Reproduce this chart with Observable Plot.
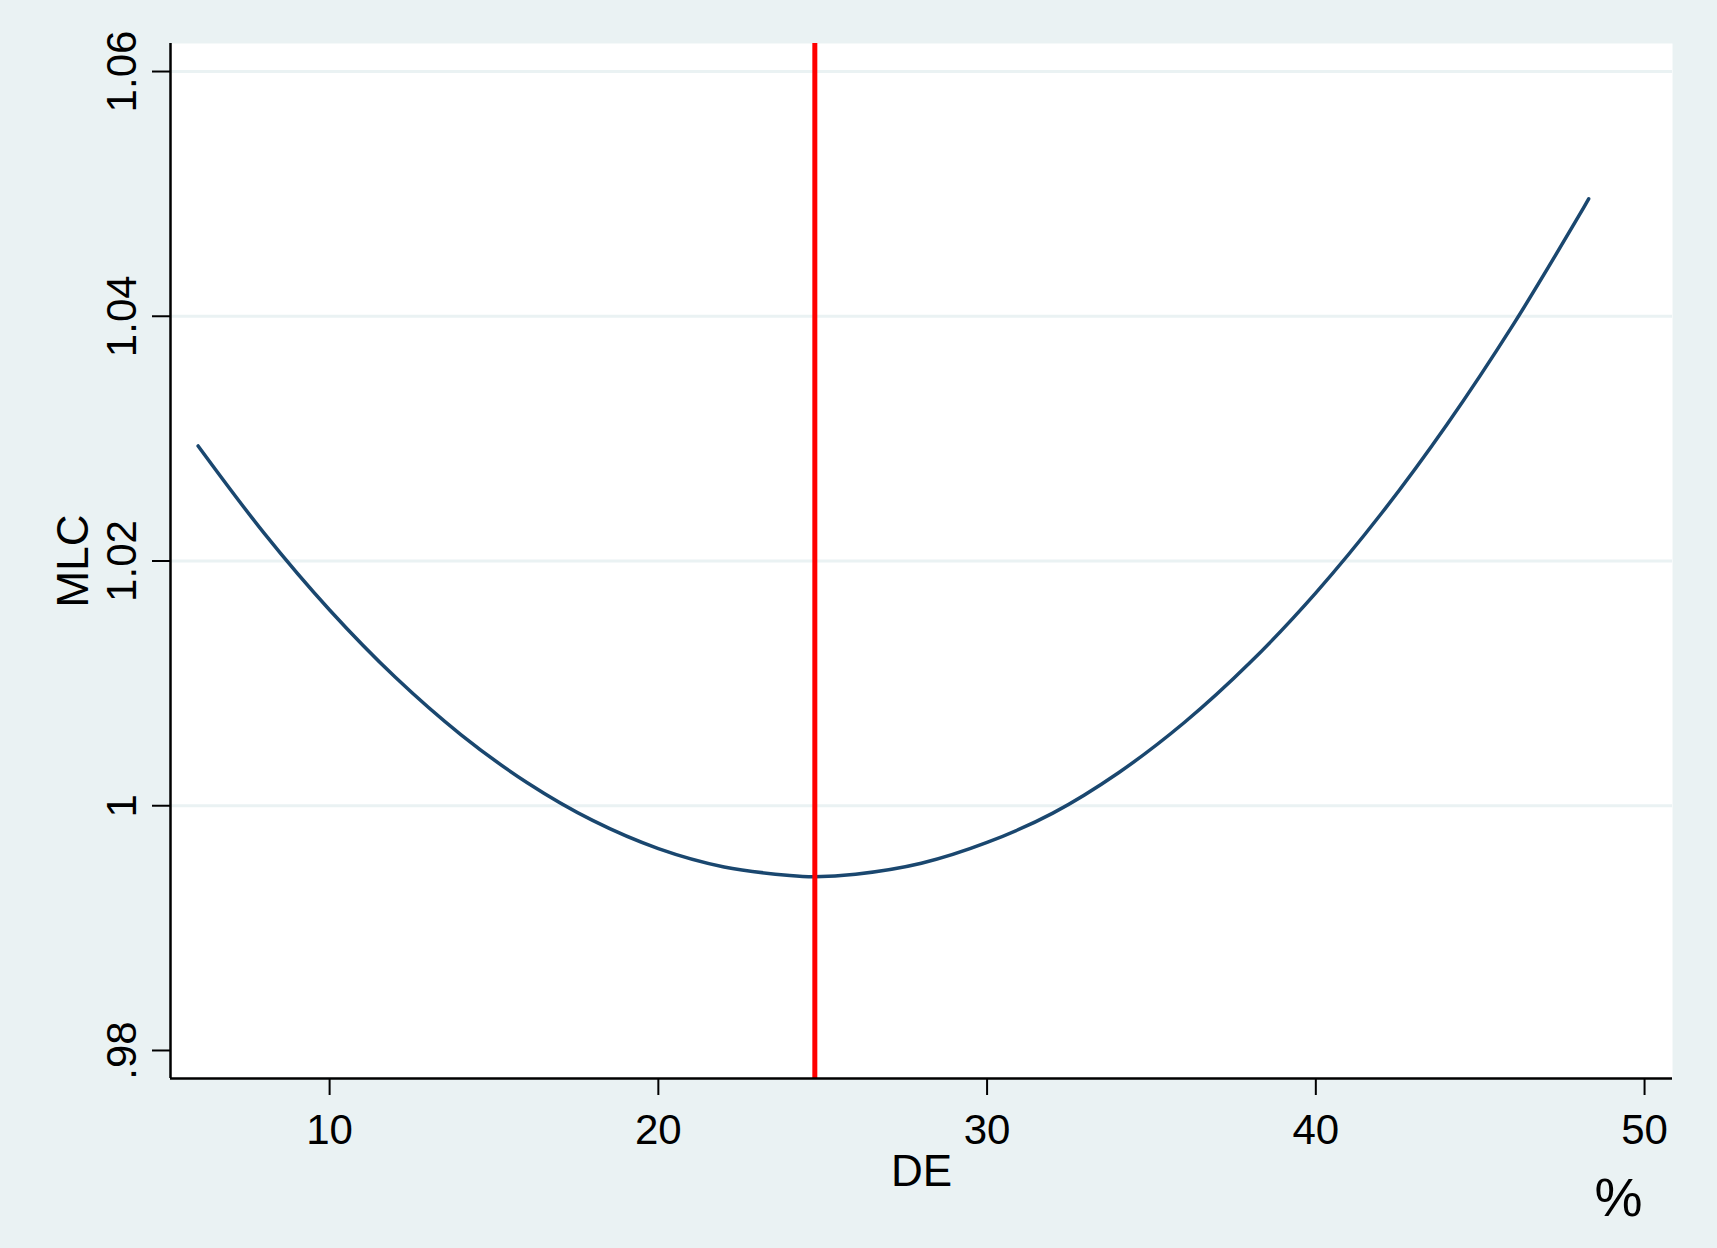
<!DOCTYPE html>
<html>
<head>
<meta charset="utf-8">
<script src="https://cdn.jsdelivr.net/npm/d3@7"></script>
<script src="https://cdn.jsdelivr.net/npm/@observablehq/plot@0.6"></script>
<style>
  html, body { margin: 0; padding: 0; background: #EAF2F3; }
</style>
</head>
<body>
<div id="chart"></div>
<script>
// DE (%) values and the MLC
const deValues  = [6, 8, 10, 12, 14, 16, 18, 20, 22, 24, 24.76, 26, 28, 30, 32, 34, 36, 38, 40, 42, 44, 46, 48, 48.3];
const mlcValues = [1.0294, 1.0223, 1.0160, 1.0105, 1.0058, 1.0019, 0.9988, 0.9965, 0.9950, 0.9943, 0.9942, 0.9944,
                   0.9953, 0.9970, 0.9994, 1.0027, 1.0068, 1.0117, 1.0174, 1.0239, 1.0312, 1.0393, 1.0482, 1.0496];
const optimumDE = [24.76];
const xTicks = [10, 20, 30, 40, 50];
const yTicks = [1.06, 1.04, 1.02, 1.00, 0.98];
const yTickLabels = ["1.06", "1.04", "1.02", "1", ".98"];
const yGrid = [1.06, 1.04, 1.02, 1.00];
const xDomain = [5.16, 50.85];
const yDomain = [0.97771, 1.06229];

const curve = deValues.map((d, i) => ({de: d, mlc: mlcValues[i]}));
const yLabelData = yTicks.map((v, i) => ({v, label: yTickLabels[i]}));

const chart = Plot.plot({
  width: 1717,
  height: 1248,
  marginLeft: 170,
  marginRight: 45,
  marginTop: 43,
  marginBottom: 170,
  style: {
    background: "#EAF2F3",
    fontFamily: "'Liberation Sans', Arial, sans-serif",
    fontSize: "42px",
    color: "black",
    overflow: "visible"
  },
  x: {domain: xDomain, label: null},
  y: {domain: yDomain, label: null},
  marks: [
    Plot.frame({fill: "white", stroke: null}),
    Plot.gridY(yGrid, {stroke: "#EAF2F3", strokeWidth: 3, strokeOpacity: 1}),
    Plot.line(curve, {x: "de", y: "mlc", stroke: "#1a476f", strokeWidth: 3.5, curve: "catmull-rom"}),
    Plot.ruleX(optimumDE, {stroke: "#ff0000", strokeWidth: 5}),
    Plot.ruleX([xDomain[0]], {stroke: "black", strokeWidth: 2.5}),
    Plot.ruleY([yDomain[0]], {stroke: "black", strokeWidth: 2.5}),
    Plot.axisX({ticks: xTicks, tickSize: 17, tickFormat: () => "", stroke: "black", strokeWidth: 2}),
    Plot.axisY({ticks: yTicks, tickSize: 18, tickFormat: () => "", stroke: "black", strokeWidth: 2}),
    Plot.text(xTicks, {x: d => d, frameAnchor: "bottom", dy: 65, lineAnchor: "bottom", textAnchor: "middle", fontSize: 42, fill: "black"}),
    Plot.text(yLabelData, {y: "v", text: "label", frameAnchor: "left", dx: -35, rotate: -90, lineAnchor: "bottom", textAnchor: "middle", fontSize: 42, fill: "black"}),
    Plot.text(["MLC"], {frameAnchor: "left", dx: -83, rotate: -90, lineAnchor: "bottom", textAnchor: "middle", fontSize: 44, fill: "black"}),
    Plot.text(["DE"], {frameAnchor: "bottom", dy: 107, lineAnchor: "bottom", textAnchor: "middle", fontSize: 44, fill: "black"}),
    Plot.text(["%"], {frameAnchor: "bottom-right", dx: -54, dy: 137, lineAnchor: "bottom", textAnchor: "middle", fontSize: 54, fill: "black"})
  ]
});
document.getElementById("chart").appendChild(chart);
</script>
</body>
</html>
